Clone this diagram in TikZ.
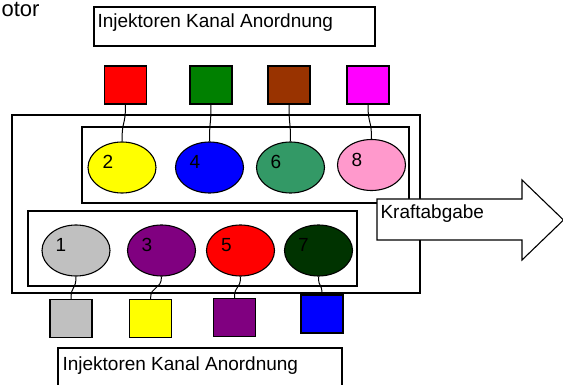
\documentclass[tikz,border=0pt]{standalone}
\usepackage{fontspec}
\setmainfont{Liberation Sans}
\usetikzlibrary{shapes.geometric}
\definecolor{cRed}{HTML}{FF0000}
\definecolor{cGreen}{HTML}{008000}
\definecolor{cBrown}{HTML}{993300}
\definecolor{cMagenta}{HTML}{FF00FF}
\definecolor{cYellow}{HTML}{FFFF00}
\definecolor{cBlue}{HTML}{0000FF}
\definecolor{cSea}{HTML}{339966}
\definecolor{cPink}{HTML}{FF99CC}
\definecolor{cGrey}{HTML}{C0C0C0}
\definecolor{cPurple}{HTML}{800080}
\definecolor{cDarkGreen}{HTML}{003300}
\begin{document}
\begin{tikzpicture}[x=1pt,y=-1pt,line width=1.1pt,
  frame/.style={draw,rectangle,inner sep=0pt,fill=none},
  cyl/.style={draw,ellipse,fill=#1,minimum width=68pt,minimum height=51pt,inner sep=0pt},
  inj/.style={draw,rectangle,fill=#1,minimum width=42pt,minimum height=38pt,inner sep=0pt},
  txt/.style={inner sep=0pt,font=\fontsize{19}{22}\selectfont},
  num/.style={inner sep=0pt,font=\fontsize{19}{22}\selectfont},
  wire/.style={line width=1pt}]
\useasboundingbox (0,0) rectangle (563,385);
\begin{scope}
\clip (0,0) rectangle (563,385);
% title fragment
\node[txt,anchor=base west,font=\fontsize{22}{26}\selectfont] (title) at (1,17) {otor};
% top label box
\node[frame,minimum width=281pt,minimum height=39pt] (toplab) at (234.5,26.5) {};
\node[txt,anchor=base west] (toplabt) at (97,27.5) {Injektoren Kanal Anordnung};
% engine frames
\node[frame,minimum width=408pt,minimum height=178pt] (outer) at (216,204) {};
\node[frame,minimum width=327pt,minimum height=76pt] (bankA) at (245.5,165) {};
\node[frame,minimum width=329pt,minimum height=75pt] (bankB) at (192.5,248.5) {};
% top cylinders
\node[cyl=cYellow] (c2) at (122,167.5) {};
\node[cyl=cBlue] (c4) at (209.5,167.5) {};
\node[cyl=cSea] (c6) at (290.5,167.5) {};
\node[cyl=cPink] (c8) at (371.5,165) {};
% bottom cylinders
\node[cyl=cGrey] (c1) at (76,250.5) {};
\node[cyl=cPurple] (c3) at (161.5,250.5) {};
\node[cyl=cRed] (c5) at (240.5,250.5) {};
\node[cyl=cDarkGreen] (c7) at (318.5,250.5) {};
% numbers
\node[num] (n2) at (108,162) {2};
\node[num] (n4) at (195,162) {4};
\node[num] (n6) at (276,162) {6};
\node[num] (n8) at (357,159.5) {8};
\node[num] (n1) at (61,245) {1};
\node[num] (n3) at (147,245) {3};
\node[num] (n5) at (226.5,245) {5};
\node[num] (n7) at (303.5,245) {7};
% top injectors
\node[inj=cRed] (i2) at (125.5,85) {};
\node[inj=cGreen] (i4) at (211,85) {};
\node[inj=cBrown] (i6) at (289,85) {};
\node[inj=cMagenta] (i8) at (368,85) {};
% bottom injectors
\node[inj=cGrey] (i1) at (71,318.5) {};
\node[inj=cYellow] (i3) at (150.5,318.5) {};
\node[inj=cPurple] (i5) at (234.5,317.5) {};
\node[inj=cBlue] (i7) at (322,314) {};
% wires
\draw[wire] (i2.south) .. controls +(0,22) and +(0,-22) .. (c2.north);
\draw[wire] (i4.south) .. controls +(0,22) and +(0,-22) .. (c4.north);
\draw[wire] (i6.south) .. controls +(0,22) and +(0,-22) .. (c6.north);
\draw[wire] (i8.south) .. controls +(0,20) and +(0,-20) .. (c8.north);
\draw[wire] (c1.south) .. controls +(0,14) and +(0,-14) .. (i1.north);
\draw[wire] (c3.south) .. controls +(0,14) and +(0,-14) .. (i3.north);
\draw[wire] (c5.south) .. controls +(0,14) and +(0,-14) .. (i5.north);
\draw[wire] (c7.south) .. controls +(0,12) and +(0,-12) .. (i7.north);
% output arrow
\draw[fill=white] (377,199) -- (522,199) -- (522,180) -- (563.5,220) -- (522,260) -- (522,240) -- (377,240) -- cycle;
\node[txt,anchor=base west] (kraft) at (380,218.5) {Kraftabgabe};
% bottom label box
\node[frame,minimum width=284pt,minimum height=42pt] (botlab) at (200,369) {};
\node[txt,anchor=base west] (botlabt) at (62,370) {Injektoren Kanal Anordnung};
\end{scope}
\end{tikzpicture}
\end{document}
